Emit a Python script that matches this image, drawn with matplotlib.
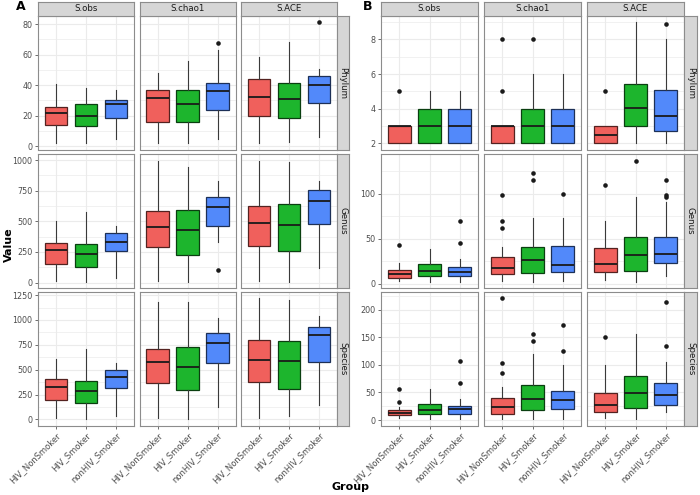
import numpy as np
import matplotlib.pyplot as plt
from matplotlib.ticker import MultipleLocator
from matplotlib.colors import to_rgb

groups = ['HIV_NonSmoker', 'HIV_Smoker', 'nonHIV_Smoker']
metrics = ['S.obs', 'S.chao1', 'S.ACE']
levels = ['Phylum', 'Genus', 'Species']
colors = ['#F0605C', '#1DB52D', '#5289FA']

# one box = (whisker low, q1, median, q3, whisker high), listed per metric then per group
a_phylum = [[(2.2, 13.8, 21.5, 25.9, 40.8), (1.8, 13.4, 20.0, 27.4, 37.9), (4.8, 18.6, 27.4, 30.2, 36.8)],
            [(2.2, 15.6, 31.8, 36.6, 48.2), (2.2, 15.8, 27.6, 36.6, 55.5), (5.0, 23.5, 36.4, 41.2, 63.1)],
            [(2.2, 19.5, 32.0, 44.3, 58.3), (2.8, 18.2, 30.7, 41.2, 68.4), (5.7, 28.5, 40.1, 46.2, 50.4)]]
a_phylum_out = [[[], [], []], [[], [], [67.7]], [[], [], [81.3]]]

a_genus = [[(11, 150, 267, 327, 499), (5, 125, 232, 314, 573), (38, 256, 335, 409, 464)],
           [(11, 292, 455, 584, 990), (5, 226, 431, 592, 944), (335, 464, 619, 701, 834)],
           [(11, 297, 485, 624, 997), (5, 256, 472, 644, 985), (120, 477, 665, 758, 834)]]
a_genus_out = [[[], [], []], [[], [], [101]], [[], [], []]]

a_species = [[(14, 193, 328, 405, 608), (0, 162, 290, 382, 703), (34, 311, 422, 500, 568)],
             [(14, 365, 574, 709, 1177), (7, 297, 530, 733, 1177), (128, 571, 767, 868, 1018)],
             [(17, 372, 598, 797, 1220), (34, 304, 591, 790, 1203), (142, 581, 845, 929, 1041)]]
a_species_out = [[[], [], []], [[], [], []], [[], [], []]]

b_phylum = [[(2, 2, 3, 3, 3), (2, 2, 3, 4, 5), (2, 2, 3, 4, 5)],
            [(2, 2, 3, 3, 3), (2, 2, 3, 4, 6), (2, 2, 3, 4, 6)],
            [(2, 2, 2.5, 3, 3), (2, 3, 4.05, 5.44, 9.0), (2, 2.74, 3.59, 5.06, 8)]]
b_phylum_out = [[[5], [], []], [[5, 8], [8], []], [[5], [], [8.9]]]

b_genus = [[(3, 6.7, 10.4, 14.8, 23), (1.9, 8.1, 14.4, 21.5, 38.9), (1.9, 8.1, 13.3, 18.1, 27.4)],
           [(3, 10.7, 17, 29.3, 40.7), (2.2, 11.5, 25.9, 41.1, 73), (3, 12.6, 20.7, 42.2, 73)],
           [(4.4, 13, 21.5, 39.3, 69.3), (2.2, 14.4, 31.9, 51.5, 97), (8.5, 23, 32.6, 52.2, 90.4)]]
b_genus_out = [[[43], [], [45.2, 70]], [[62.2, 69.3, 98.2], [115.9, 123.3], [99.3]],
               [[110], [137], [96.3, 98.9, 115.9]]]

b_species = [[(3, 8.5, 12.7, 18.2, 24), (1.2, 10.3, 18.2, 29.8, 57), (1.2, 11.5, 19.4, 26.1, 38.9)],
             [(2.4, 11.5, 24.3, 40, 60.7), (1.2, 17.6, 37.7, 63.2, 119.6), (2.4, 20, 36.4, 53.4, 99.6)],
             [(3.6, 15.2, 26.7, 49.8, 99), (1.2, 21.9, 48.6, 79.6, 156), (15.2, 27.3, 45.5, 66.8, 106)]]
b_species_out = [[[32, 57], [], [68, 107]], [[85, 104, 221], [144, 156], [125.7, 172.5]],
                 [[151], [], [133.6, 214.3]]]

panel_a = [(a_phylum, a_phylum_out, 20), (a_genus, a_genus_out, 250), (a_species, a_species_out, 250)]
panel_b = [(b_phylum, b_phylum_out, 2), (b_genus, b_genus_out, 50), (b_species, b_species_out, 50)]

W, H = 700, 495
fig = plt.figure(figsize=(7, 4.95), dpi=100)


def rect(left, top, right, bottom):
    return [left / W, 1 - bottom / H, (right - left) / W, (bottom - top) / H]


border = '#8c8c8c'
grid = '#ebebeb'
tick_col = '#4d4d4d'
row_tops = [16, 154.5, 292]
row_h = 133.5


def draw_panel(rows, col_lefts, col_w, strip_right):
    for r, (boxes, outs, step) in enumerate(rows):
        # shared y range of the row, ggplot style 5% expansion
        vals = [v for m in boxes for b in m for v in b] + [v for m in outs for o in m for v in o]
        lo, hi = min(vals), max(vals)
        pad = (hi - lo) * 0.05
        top = row_tops[r]
        bottom = top + row_h
        for c in range(3):
            left = col_lefts[c]
            ax = fig.add_axes(rect(left, top, left + col_w, bottom))
            stats = []
            for g in range(3):
                wl, q1, med, q3, wh = boxes[c][g]
                stats.append(dict(whislo=wl, q1=q1, med=med, q3=q3, whishi=wh, fliers=outs[c][g]))
            bp = ax.bxp(stats, positions=[1, 2, 3], widths=0.75, patch_artist=True, showcaps=False,
                        boxprops=dict(linewidth=0.9),
                        whiskerprops=dict(color='#3a3a3a', linewidth=0.8),
                        medianprops=dict(color='#1a1a1a', linewidth=1.3),
                        flierprops=dict(marker='o', markersize=3.3, markerfacecolor='#1a1a1a',
                                        markeredgecolor='none'))
            for patch, col in zip(bp['boxes'], colors):
                patch.set_facecolor(col)
                patch.set_edgecolor(tuple(np.array(to_rgb(col)) * 0.35))
                patch.set_zorder(2)
            ax.set_xlim(0.4, 3.6)
            ax.set_ylim(lo - pad, hi + pad)
            ax.yaxis.set_major_locator(MultipleLocator(step))
            ax.yaxis.set_minor_locator(MultipleLocator(step / 2))
            ax.set_xticks([1, 2, 3])
            ax.grid(True, which='major', color=grid, linewidth=0.8, zorder=0)
            ax.grid(True, which='minor', axis='y', color=grid, linewidth=0.5, zorder=0)
            ax.set_axisbelow(True)
            for s in ax.spines.values():
                s.set_color(border)
                s.set_linewidth(0.8)
            ax.tick_params(which='minor', length=0)
            ax.tick_params(which='major', length=2.5, width=0.6, color='#555555',
                           labelsize=5.8, labelcolor=tick_col, pad=1.5)
            if c > 0:
                ax.tick_params(axis='y', length=0, labelleft=False)
            if r < 2:
                ax.tick_params(axis='x', length=0, labelbottom=False)
            else:
                ax.set_xticklabels(groups, rotation=45, ha='right', va='top',
                                   rotation_mode='anchor', fontsize=6)
            if r == 0:
                sax = fig.add_axes(rect(left, 1.5, left + col_w, top))
                sax.set_facecolor('#d6d6d6')
                sax.set_xticks([])
                sax.set_yticks([])
                for s in sax.spines.values():
                    s.set_color(border)
                    s.set_linewidth(0.8)
                sax.text(0.5, 0.5, metrics[c], ha='center', va='center', fontsize=6.2,
                         color='#1a1a1a', transform=sax.transAxes)
        rax = fig.add_axes(rect(col_lefts[2] + col_w, top, strip_right, bottom))
        rax.set_facecolor('#d6d6d6')
        rax.set_xticks([])
        rax.set_yticks([])
        for s in rax.spines.values():
            s.set_color(border)
            s.set_linewidth(0.8)
        rax.text(0.5, 0.5, levels[r], ha='center', va='center', rotation=-90, fontsize=6.2,
                 color='#1a1a1a', transform=rax.transAxes)


draw_panel(panel_a, [38, 139.5, 241], 96, 349)
draw_panel(panel_b, [381, 484, 587], 97, 697)

fig.text(16 / W, 1 - 7 / H, 'A', fontsize=9, fontweight='bold', ha='left', va='center')
fig.text(363 / W, 1 - 7 / H, 'B', fontsize=9, fontweight='bold', ha='left', va='center')
fig.text(9 / W, 1 - 245 / H, 'Value', fontsize=8, fontweight='bold', rotation=90, ha='center', va='center')
fig.text(350 / W, 1 - 487 / H, 'Group', fontsize=8, fontweight='bold', ha='center', va='center')

fig.savefig('out.png', dpi=100)
